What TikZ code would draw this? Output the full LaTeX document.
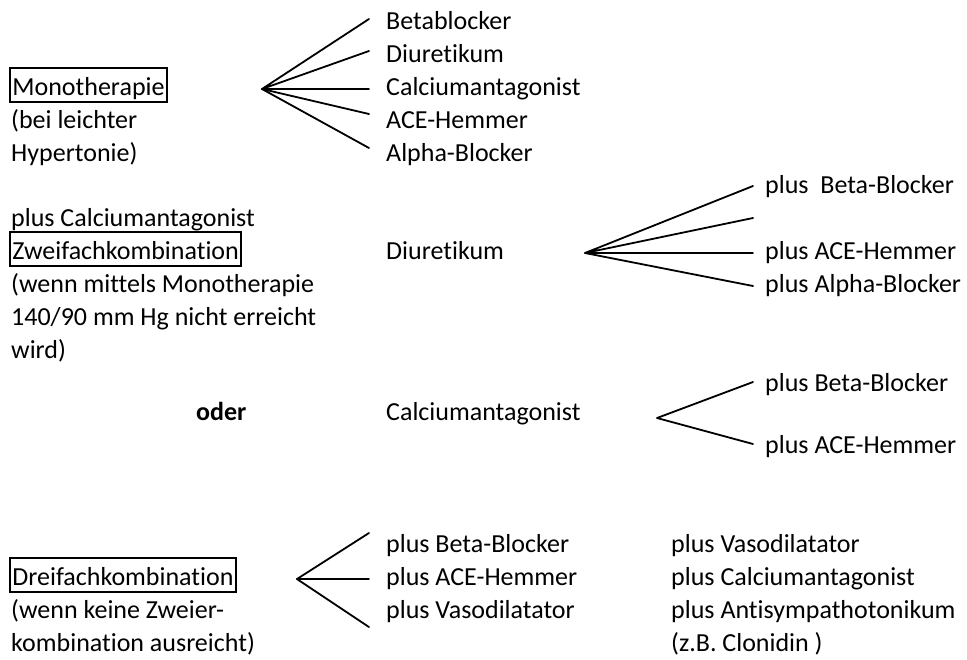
\documentclass[tikz,border=0pt]{standalone}
\usepackage{fontspec}
\setmainfont[Ligatures={NoCommon,TeX}]{Carlito}
\frenchspacing
\begin{document}
\begin{tikzpicture}[x=1pt,y=-1pt,
  txt/.style={anchor=base west, inner sep=0pt, font=\fontsize{26}{33}\selectfont},
  boxed/.style={txt, draw, line width=1.8pt, inner xsep=2.5pt, inner ysep=0pt, text height=27pt, text depth=7pt},
  fan/.style={line width=1.8pt, line cap=round, line join=round}]
\useasboundingbox (0,0) rectangle (967,659);

% ---------- Section 1: Monotherapie ----------
\node[boxed] (mono) at (9,95) {Monotherapie};
\node[txt] (mono2) at (11,128) {(bei leichter};
\node[txt] (mono3) at (11,161) {Hypertonie)};

\node[txt] (m1) at (386,29) {Betablocker};
\node[txt] (m2) at (386,62) {Diuretikum};
\node[txt] (m3) at (386,95) {Calciumantagonist};
\node[txt] (m4) at (386,128) {ACE-Hemmer};
\node[txt] (m5) at (386,161) {Alpha-Blocker};

\coordinate (f1) at (262,89);
\coordinate (f1a) at (369,19);
\coordinate (f1b) at (369,51);
\coordinate (f1c) at (369,89);
\coordinate (f1d) at (369,114);
\coordinate (f1e) at (369,148);
\draw[fan] (f1a) -- (f1) -- (f1b);
\draw[fan] (f1c) -- (f1) -- (f1d);
\draw[fan] (f1) -- (f1e);

% ---------- Section 2: Zweifachkombination ----------
\node[txt] (z0) at (11,226) {plus Calciumantagonist};
\node[boxed] (zwei) at (9,259) {Zweifachkombination};
\node[txt] (z2) at (11,292) {(wenn mittels Monotherapie};
\node[txt] (z3) at (11,325) {140/90 mm Hg nicht erreicht};
\node[txt] (z4) at (11,358) {wird)};

\node[txt] (diu) at (386,259) {Diuretikum};

\node[txt] (d1) at (765,193) {plus\ \ Beta-Blocker};
\node[txt] (d3) at (765,259) {plus ACE-Hemmer};
\node[txt] (d4) at (765,292) {plus Alpha-Blocker};

\coordinate (f2) at (585,253);
\coordinate (f2a) at (753,186);
\coordinate (f2b) at (753,218);
\coordinate (f2c) at (753,253);
\coordinate (f2d) at (753,286);
\draw[fan] (f2a) -- (f2) -- (f2b);
\draw[fan] (f2c) -- (f2) -- (f2d);

% ---------- Section 3: oder ----------
\node[txt, font=\fontsize{26}{33}\selectfont\bfseries] (oder) at (196,420) {oder};
\node[txt] (ca) at (386,420) {Calciumantagonist};
\node[txt] (c1) at (765,391) {plus Beta-Blocker};
\node[txt] (c2) at (765,453) {plus ACE-Hemmer};

\coordinate (f3) at (657,418);
\coordinate (f3a) at (753,382);
\coordinate (f3b) at (753,444);
\draw[fan] (f3a) -- (f3) -- (f3b);

% ---------- Section 4: Dreifachkombination ----------
\node[boxed] (drei) at (9,585) {Dreifachkombination};
\node[txt] (dr2) at (11,618) {(wenn keine Zweier-};
\node[txt] (dr3) at (11,651) {kombination ausreicht)};

\node[txt] (t1) at (386,552) {plus Beta-Blocker};
\node[txt] (t2) at (386,585) {plus ACE-Hemmer};
\node[txt] (t3) at (386,618) {plus Vasodilatator};

\node[txt] (r1) at (671,552) {plus Vasodilatator};
\node[txt] (r2) at (671,585) {plus Calciumantagonist};
\node[txt] (r3) at (671,618) {plus Antisympathotonikum};
\node[txt] (r4) at (671,651) {(z.B. Clonidin )};

\coordinate (f4) at (297,579);
\coordinate (f4a) at (369,533);
\coordinate (f4b) at (369,579);
\coordinate (f4c) at (369,627);
\draw[fan] (f4a) -- (f4) -- (f4c);
\draw[fan] (f4) -- (f4b);
\end{tikzpicture}
\end{document}
